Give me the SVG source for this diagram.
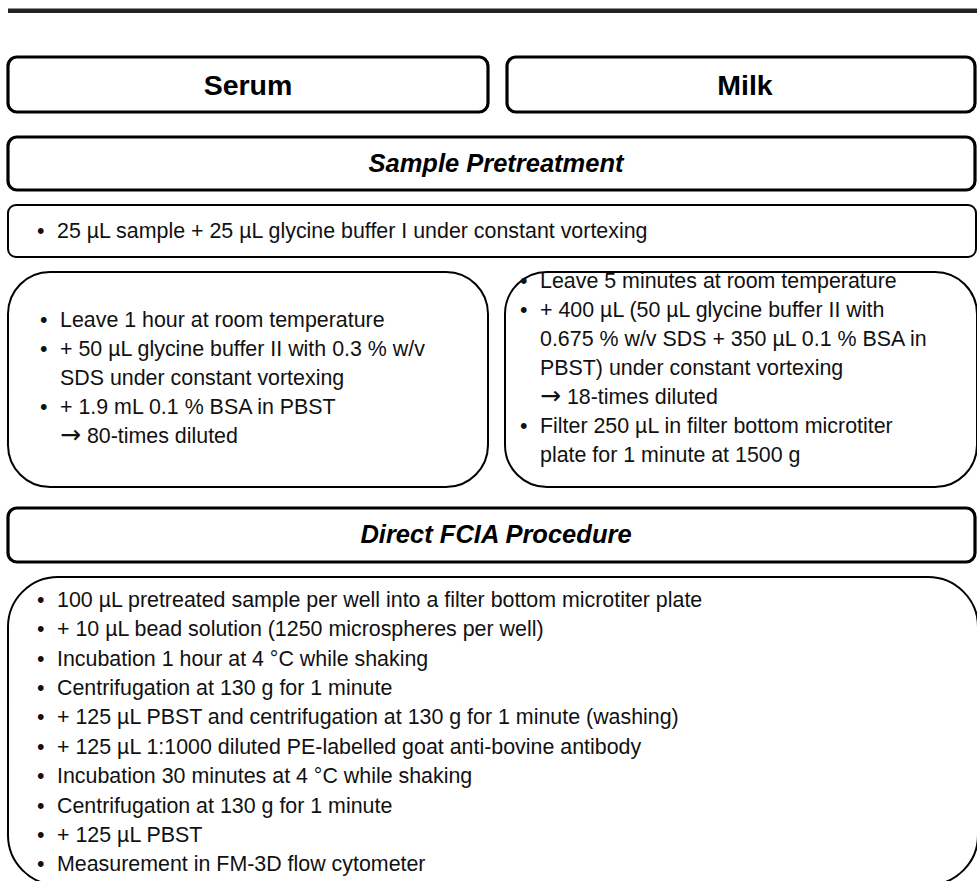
<svg xmlns="http://www.w3.org/2000/svg" width="977" height="881" viewBox="0 0 977 881">
<style>
.hdr{fill:#fff;stroke:#000;stroke-width:3.2}
.box{fill:#fff;stroke:#000;stroke-width:2}
.t{font-family:"Liberation Sans",Arial,sans-serif;font-size:21.4px;fill:#111}
.ar{font-family:"DejaVu Sans",sans-serif;font-size:25px}
.big{font-family:"Liberation Sans",Arial,sans-serif;font-size:28.5px;font-weight:bold;fill:#000;text-anchor:middle}
.sec{font-family:"Liberation Sans",Arial,sans-serif;font-size:25.5px;font-weight:bold;font-style:italic;fill:#000;text-anchor:middle}
</style>
<rect width="977" height="881" fill="#fff"/>
<rect id="topbar" x="8" y="8.5" width="975" height="4.5" fill="#222"/>
<g id="serum">
<rect class="hdr" x="8" y="57" width="480" height="55" rx="9"/>
<text class="big" x="248" y="95">Serum</text>
</g>
<g id="milk">
<rect class="hdr" x="507" y="57" width="468" height="55" rx="9"/>
<text class="big" x="745" y="95">Milk</text>
</g>
<g id="sample-pretreatment">
<rect class="hdr" x="8" y="137" width="967" height="53" rx="9"/>
<text class="sec" x="496" y="172">Sample Pretreatment</text>
</g>
<g id="glycine-step">
<rect class="box" x="8" y="205" width="968" height="52" rx="8"/>
<text class="t" x="37" y="238">•</text>
<text class="t" x="57" y="238">25 µL sample + 25 µL glycine buffer I under constant vortexing</text>
</g>
<g id="serum-steps">
<rect class="box" x="8" y="272" width="480" height="215" rx="42"/>
<text class="t" x="40" y="327">•</text><text class="t" x="60" y="327">Leave 1 hour at room temperature</text>
<text class="t" x="40" y="356">•</text><text class="t" x="60" y="356">+ 50 µL glycine buffer II with 0.3 % w/v</text>
<text class="t" x="60" y="385">SDS under constant vortexing</text>
<text class="t" x="40" y="414">•</text><text class="t" x="60" y="414">+ 1.9 mL 0.1 % BSA in PBST</text>
<text class="t" x="60" y="443"><tspan class="ar">→</tspan> 80-times diluted</text>
</g>
<g id="milk-steps">
<rect class="box" x="505" y="272" width="472" height="215" rx="42"/>
<text class="t" x="520" y="288">•</text><text class="t" x="540" y="288">Leave 5 minutes at room temperature</text>
<text class="t" x="520" y="317">•</text><text class="t" x="540" y="317">+ 400 µL (50 µL glycine buffer II with</text>
<text class="t" x="540" y="346">0.675 % w/v SDS + 350 µL 0.1 % BSA in</text>
<text class="t" x="540" y="375">PBST) under constant vortexing</text>
<text class="t" x="540" y="404"><tspan class="ar">→</tspan> 18-times diluted</text>
<text class="t" x="520" y="433">•</text><text class="t" x="540" y="433">Filter 250 µL in filter bottom microtiter</text>
<text class="t" x="540" y="462">plate for 1 minute at 1500 g</text>
</g>
<g id="direct-fcia">
<rect class="hdr" x="8" y="508" width="967" height="54" rx="9"/>
<text class="sec" x="496" y="543">Direct FCIA Procedure</text>
</g>
<g id="fcia-steps">
<rect class="box" x="8" y="577" width="970" height="308" rx="50"/>
<text class="t" x="37" y="607">•</text><text class="t" x="57" y="607">100 µL pretreated sample per well into a filter bottom microtiter plate</text>
<text class="t" x="37" y="636">•</text><text class="t" x="57" y="636">+ 10 µL bead solution (1250 microspheres per well)</text>
<text class="t" x="37" y="666">•</text><text class="t" x="57" y="666">Incubation 1 hour at 4 °C while shaking</text>
<text class="t" x="37" y="695">•</text><text class="t" x="57" y="695">Centrifugation at 130 g for 1 minute</text>
<text class="t" x="37" y="724">•</text><text class="t" x="57" y="724">+ 125 µL PBST and centrifugation at 130 g for 1 minute (washing)</text>
<text class="t" x="37" y="754">•</text><text class="t" x="57" y="754">+ 125 µL 1:1000 diluted PE-labelled goat anti-bovine antibody</text>
<text class="t" x="37" y="783">•</text><text class="t" x="57" y="783">Incubation 30 minutes at 4 °C while shaking</text>
<text class="t" x="37" y="813">•</text><text class="t" x="57" y="813">Centrifugation at 130 g for 1 minute</text>
<text class="t" x="37" y="842">•</text><text class="t" x="57" y="842">+ 125 µL PBST</text>
<text class="t" x="37" y="871">•</text><text class="t" x="57" y="871">Measurement in FM-3D flow cytometer</text>
</g>
</svg>
